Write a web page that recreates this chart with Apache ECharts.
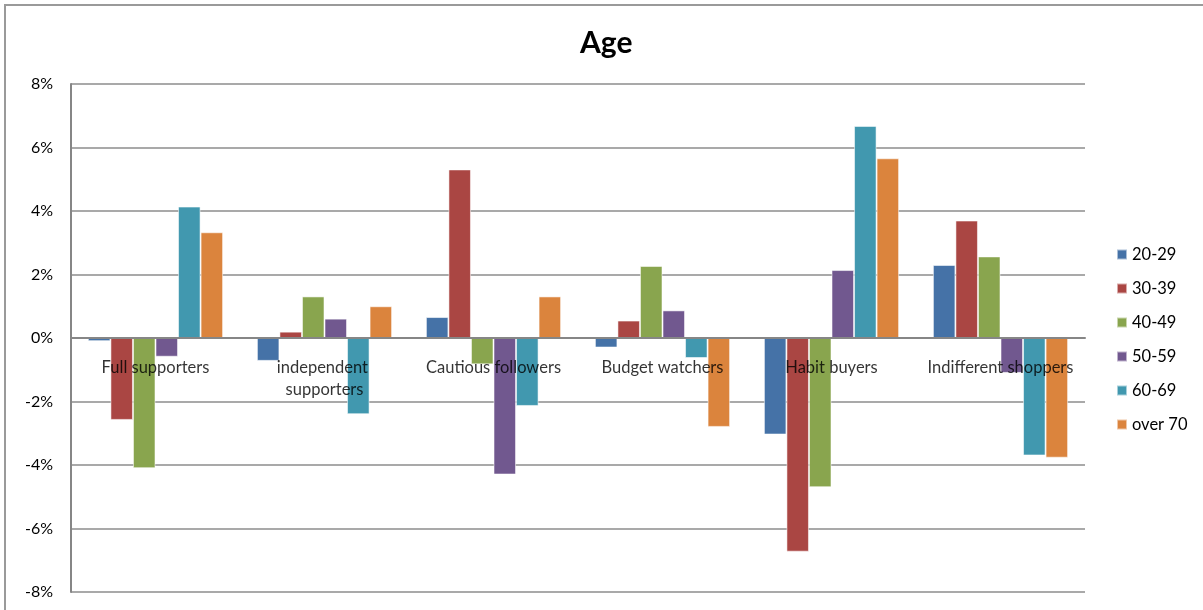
<!DOCTYPE html>
<html>
<head>
<meta charset="utf-8">
<script src="https://cdn.jsdelivr.net/npm/echarts@6/dist/echarts.min.js"></script>
<style>
  html, body { margin: 0; padding: 0; background: #fff; }
  #age-chart-div { width: 1203px; height: 610px; }
</style>
</head>
<body>
<div id="age-chart-div"></div>
<script>
// segments and age groups, values in percent
var age_categories = ['Full supporters', 'independent supporters', 'Cautious followers', 'Budget watchers', 'Habit buyers', 'Indifferent shoppers'];
var age_groups = ['20-29', '30-39', '40-49', '50-59', '60-69', 'over 70'];
var age_20_29 = [-0.1, -0.72, 0.66, -0.3, -3.04, 2.3];
var age_30_39 = [-2.58, 0.2, 5.31, 0.55, -6.73, 3.7];
var age_40_49 = [-4.1, 1.31, -0.83, 2.27, -4.7, 2.57];
var age_50_59 = [-0.59, 0.61, -4.3, 0.87, 2.14, -1.1];
var age_60_69 = [4.14, -2.4, -2.14, -0.63, 6.68, -3.7];
var age_over_70 = [3.33, 1.0, 1.31, -2.8, 5.66, -3.77];
var age_ticks = [-8, -6, -4, -2, 0, 2, 4, 6, 8];

var age_colors = ['#4572A7', '#AA4643', '#89A54E', '#71588F', '#4198AF', '#DB843D'];
var age_values = [age_20_29, age_30_39, age_40_49, age_50_59, age_60_69, age_over_70];

var age_chartDom = document.getElementById('age-chart-div');
var age_myChart = echarts.init(age_chartDom);
var age_option;

var age_font = 'Lato, "Open Sans", sans-serif';

var age_series = age_groups.map(function (name, i) {
    return {
        name: name,
        type: 'bar',
        barGap: 0,
        barCategoryGap: '20%',
        itemStyle: {
            color: age_colors[i],
            borderColor: 'rgba(255,255,255,0.55)',
            borderWidth: 1
        },
        emphasis: { disabled: true },
        data: age_values[i]
    };
});

// category names sit next to the zero line, like the excel "next to axis" labels
age_series.push({
    name: 'axis-labels',
    type: 'scatter',
    symbolSize: 0,
    z: 10,
    silent: true,
    label: {
        show: true,
        position: 'bottom',
        distance: 19,
        formatter: function (p) { return age_categories[p.dataIndex]; },
        fontSize: 16.5,
        color: '#000',
        fontFamily: age_font,
        width: 150,
        overflow: 'break',
        lineHeight: 22,
        align: 'center'
    },
    data: age_categories.map(function () { return 0; })
});

age_option = {
    backgroundColor: '#ffffff',
    animation: false,
    textStyle: { fontFamily: age_font },
    title: {
        text: 'Age',
        left: 575,
        top: 23,
        textStyle: { fontSize: 30, fontWeight: 'bold', color: '#000', fontFamily: age_font }
    },
    legend: {
        orient: 'vertical',
        left: 1111,
        top: 241,
        itemWidth: 10,
        itemHeight: 10,
        itemGap: 17,
        icon: 'rect',
        selectedMode: false,
        textStyle: { fontSize: 16.5, color: '#000', fontFamily: age_font },
        data: age_groups
    },
    grid: {
        left: 71,
        right: 118,
        top: 84,
        bottom: 18,
        outerBoundsMode: 'none',
        containLabel: false
    },
    xAxis: {
        type: 'category',
        data: age_categories,
        z: 10,
        axisLine: { onZero: true, lineStyle: { color: '#868686', width: 2 } },
        axisTick: { show: false },
        axisLabel: { show: false },
        splitLine: { show: false }
    },
    yAxis: {
        type: 'value',
        min: age_ticks[0],
        max: age_ticks[age_ticks.length - 1],
        interval: 2,
        axisLine: { show: true, lineStyle: { color: '#868686', width: 2 } },
        axisTick: { show: false },
        axisLabel: {
            formatter: '{value}%',
            fontSize: 16,
            color: '#000',
            margin: 18,
            fontFamily: age_font
        },
        splitLine: { show: true, lineStyle: { color: '#8c8c8c', width: 1.5 } }
    },
    graphic: [
        {
            type: 'polyline',
            shape: { points: [[5, 610], [5, 5], [1203, 5]] },
            style: { stroke: '#9a9a9a', lineWidth: 2, fill: null },
            silent: true
        }
    ],
    series: age_series
};

if (age_option && typeof age_option === 'object') {
    age_myChart.setOption(age_option);
}
</script>
</body>
</html>
